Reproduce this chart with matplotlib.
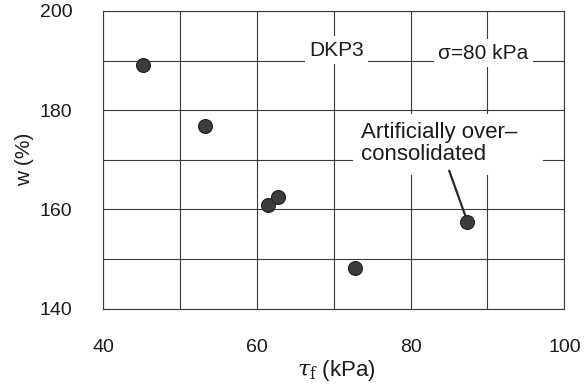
import matplotlib
matplotlib.use('Agg')
import matplotlib.pyplot as plt
from matplotlib.patches import Rectangle

plt.rcParams['font.family'] = ['Liberation Sans', 'DejaVu Sans']
plt.rcParams['mathtext.fontset'] = 'dejavuserif'

# shear strength vs water content, DKP3 series
tau_f = [45.2, 53.2, 61.4, 62.8, 72.8, 87.4]
w_pct = [189.2, 176.9, 160.9, 162.4, 148.1, 157.5]

x_ticks = [40, 60, 80, 100]
y_ticks = [140, 160, 180, 200]

ink = '#1c1c1c'

fig = plt.figure(figsize=(5.86, 3.92), dpi=100)
ax = fig.add_axes([0.176, 0.213, 0.787, 0.759])

ax.set_xlim(40, 100)
ax.set_ylim(140, 200)
ax.set_xticks(x_ticks)
ax.set_yticks(y_ticks)
ax.set_xticks(range(40, 101, 10), minor=True)
ax.set_yticks(range(140, 201, 10), minor=True)
ax.tick_params(which='both', length=0)
ax.tick_params(axis='x', pad=22, labelsize=14, colors=ink)
ax.tick_params(axis='y', pad=22, labelsize=14, colors=ink)
ax.grid(True, which='both', color='#3a3a3a', linewidth=0.8)
for sp in ax.spines.values():
    sp.set_color('#3a3a3a')
    sp.set_linewidth(0.8)

ax.plot(tau_f, w_pct, 'o', ms=10, color='#3c3c3c', mec='#1e1e1e', mew=0.8, zorder=4)

box = dict(facecolor='white', edgecolor='none', pad=3)
ax.text(70.4, 192.1, 'DKP3', fontsize=15, ha='center', va='center',
        color=ink, bbox=box, zorder=3)
ax.text(89.5, 191.5, 'σ=80 kPa', fontsize=15, ha='center', va='center',
        color=ink, bbox=box, zorder=3)

# blank patch behind the two-line note
ax.add_patch(Rectangle((0.542, 0.45), 0.412, 0.205, transform=ax.transAxes,
                       facecolor='white', edgecolor='none', zorder=2))
ax.annotate('Artificially over–\nconsolidated', xy=(tau_f[5], w_pct[5]),
            xytext=(73.6, 173.2), fontsize=16, ha='left', va='center',
            color=ink, linespacing=1.05, zorder=3,
            arrowprops=dict(arrowstyle='-', color='#2a2a2a', lw=1.6,
                            shrinkA=2, shrinkB=4))

ax.set_xlabel(r'$\tau_\mathrm{f}$ (kPa)', fontsize=16, color=ink)
ax.set_ylabel('w (%)', fontsize=15, color=ink)
ax.xaxis.set_label_coords(0.505, -0.168)
ax.yaxis.set_label_coords(-0.150, 0.5)

fig.savefig('out.png', dpi=100)
